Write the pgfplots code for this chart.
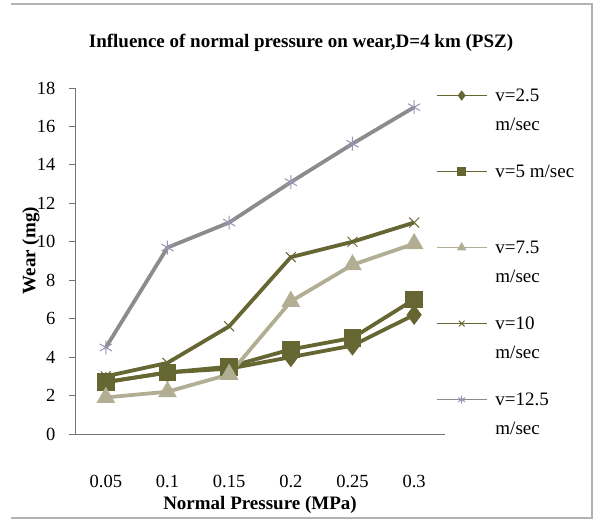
\documentclass[border=0pt]{standalone}
\usepackage{fontspec}
\setmainfont{Liberation Serif}
\usepackage{pgfplots}
\pgfplotsset{compat=1.18}
\definecolor{oliv}{RGB}{102,102,51}
\definecolor{tan2}{RGB}{178,174,148}
\definecolor{gry}{RGB}{140,140,140}
\definecolor{starm}{RGB}{150,150,180}
\begin{document}
\begin{tikzpicture}
\path[use as bounding box] (0,0) rectangle (594pt,521pt);
\draw[gray!60, line width=1.2pt] (11pt,517pt) -- (592pt,517pt) -- (592pt,3pt) -- (11pt,3pt);
\node[font=\bfseries\fontsize{19}{21}\selectfont] at (301pt,478pt) {Influence of normal pressure on wear,D=4 km (PSZ)};
\begin{axis}[
  at={(75pt,87pt)}, anchor=south west,
  scale only axis, width=370pt, height=346pt,
  xmin=-0.5, xmax=5.5, ymin=0, ymax=18,
  axis lines=left,
  axis line style={-, gray!90!black, line width=0.9pt},
  xtick={0,...,5}, xticklabels={0.05,0.1,0.15,0.2,0.25,0.3},
  xtick style={draw=none},
  ytick={0,2,...,18},
  ytick style={gray!90!black, line width=0.9pt},
  tick align=outside, major tick length=6pt,
  tick label style={font=\fontsize{18.5}{20}\selectfont},
  /pgf/number format/assume math mode=true,
  xticklabel style={anchor=center, yshift=-41pt},
  yticklabel style={xshift=-10pt},
  xlabel={\textbf{Normal Pressure (MPa)}},
  ylabel={\textbf{Wear (mg)}},
  label style={font=\fontsize{19}{21}\selectfont},
  xlabel style={at={(axis description cs:0.5,-0.205)}, anchor=center},
  ylabel style={at={(axis description cs:-0.119,0.53)}, anchor=center},
  legend cell align=left,
  legend style={draw=none, fill=none, inner sep=0pt,
    at={(axis description cs:0.975,1.005)}, anchor=north west,
    font=\fontsize{19}{29}\selectfont,
    cells={align=left},
    /tikz/every odd column/.append style={column sep=6pt},
    row sep=29pt},
  legend image code/.code={\draw[mark repeat=2,mark phase=2,yshift=14.5pt,#1] plot coordinates {(0pt,0pt) (25pt,0pt) (50pt,0pt)};},
  legend image post style={line width=1.5pt, mark size=4pt},
  every axis plot/.append style={line width=3.8pt, mark size=7pt},
]
\addplot[color=oliv, mark=diamond*, mark options={fill=oliv}] coordinates {(0,2.7) (1,3.2) (2,3.4) (3,4.0) (4,4.6) (5,6.2)};
\addlegendentry{v=2.5\\m/sec}
\addplot[color=oliv, mark=square*, mark options={fill=oliv}] coordinates {(0,2.7) (1,3.2) (2,3.5) (3,4.4) (4,5.0) (5,7.0)};
\addlegendentry{v=5 m/sec\\\strut}
\addplot[color=tan2, mark=triangle*, mark options={fill=tan2}] coordinates {(0,1.9) (1,2.2) (2,3.1) (3,6.9) (4,8.8) (5,9.9)};
\addlegendentry{v=7.5\\m/sec}
\addplot[color=oliv, mark=x, mark options={line width=1pt, solid}] coordinates {(0,3.0) (1,3.7) (2,5.6) (3,9.2) (4,10.0) (5,11.0)};
\addlegendentry{v=10\\m/sec}
\addplot[color=gry, mark=asterisk, mark options={draw=starm, line width=1pt}] coordinates {(0,4.5) (1,9.7) (2,11.0) (3,13.1) (4,15.1) (5,17.0)};
\addlegendentry{v=12.5\\m/sec}
\end{axis}
\end{tikzpicture}
\end{document}
